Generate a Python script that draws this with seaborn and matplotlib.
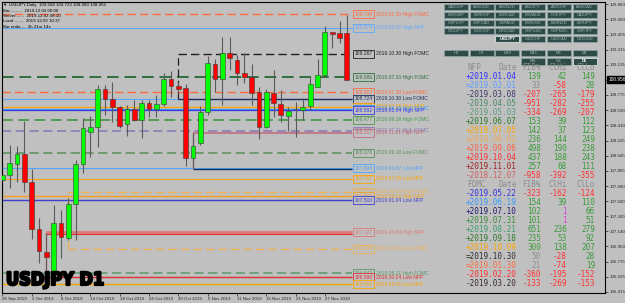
import matplotlib
matplotlib.use("Agg")
import matplotlib.pyplot as plt
import matplotlib.transforms as mtransforms
import matplotlib.patheffects as pe
from matplotlib import font_manager as fm
from matplotlib.patches import Rectangle
import seaborn as sns

W, H = 625, 303

# USDJPY daily bars, first bar is 26 Sep 2019, last is 2 Dec 2019
bar_open = [107.755, 107.815, 107.946, 108.066, 107.731, 107.169, 106.894, 106.654,
            107.240, 107.061, 107.468, 107.946, 108.329, 108.389, 108.843, 108.724,
            108.628, 108.425, 108.604, 108.473, 108.676, 108.604, 108.664, 108.963,
            108.879, 108.855, 108.018, 108.197, 108.568, 109.142, 108.963, 109.274,
            109.190, 109.035, 108.987, 108.807, 108.389, 108.796, 108.664, 108.520,
            108.600, 108.592, 108.640, 108.867, 109.011, 109.525, 109.513, 109.508]
bar_high = [107.922, 108.173, 108.160, 108.461, 107.886, 107.300, 107.121, 107.456,
            107.396, 107.540, 107.994, 108.496, 108.520, 108.891, 108.891, 108.927,
            108.640, 108.652, 108.712, 108.712, 108.712, 108.772, 109.035, 109.059,
            108.927, 108.903, 108.317, 108.640, 109.238, 109.202, 109.465, 109.465,
            109.250, 109.274, 109.142, 108.867, 108.843, 109.071, 108.831, 108.628,
            108.688, 108.736, 108.987, 109.202, 109.597, 109.525, 109.657, 109.723]
bar_low = [107.575, 107.659, 107.730, 107.611, 107.049, 106.762, 106.499, 106.642,
           106.822, 107.037, 107.037, 107.839, 108.030, 108.150, 108.532, 108.449,
           108.377, 108.281, 108.461, 108.257, 108.508, 108.508, 108.640, 108.748,
           108.796, 107.922, 107.898, 108.173, 108.532, 108.807, 108.652, 109.071,
           108.891, 108.915, 108.652, 108.245, 108.377, 108.508, 108.449, 108.341,
           108.269, 108.473, 108.592, 108.867, 108.999, 109.334, 109.394, 108.950]
bar_close = [107.815, 107.958, 108.066, 107.731, 107.169, 106.906, 106.834, 107.240,
             107.073, 107.468, 107.946, 108.377, 108.389, 108.843, 108.724, 108.628,
             108.401, 108.604, 108.473, 108.676, 108.604, 108.664, 108.963, 108.879,
             108.843, 108.018, 108.161, 108.568, 109.154, 108.963, 109.274, 109.214,
             109.035, 108.987, 108.796, 108.389, 108.807, 108.676, 108.532, 108.580,
             108.610, 108.628, 108.903, 109.011, 109.525, 109.501, 109.453, 108.956]

date_ticks = [0, 4, 8, 12, 16, 20, 24, 28, 32, 36, 40, 44]
date_labels = ["26 Sep 2019", "2 Oct 2019", "8 Oct 2019", "14 Oct 2019", "18 Oct 2019",
               "24 Oct 2019", "30 Oct 2019", "5 Nov 2019", "11 Nov 2019", "15 Nov 2019",
               "21 Nov 2019", "27 Nov 2019"]

price_ticks = [109.860, 109.680, 109.495, 109.315, 109.135, 108.955, 108.775, 108.590,
               108.410, 108.225, 108.045, 107.865, 107.680, 107.500, 107.320, 107.140,
               106.960, 106.775, 106.595, 106.415]
last_price = 108.956

header_lines = ["\u25bc USDJPY,Daily  109.508 109.723 108.989 108.956",
                "Bar..........  2019.12.02 00:00",
                "Server.......  2019.12.02 08:10",
                "Local........  2019.12.02 10:37",
                "Bar ends:...  2h 21m 14s"]

# news levels: name, price, bar where the line starts (-1 = before the visible range)
level_names = ["2019.01.30 High FOMC", "2019.02.01 High NFP", "2019.10.30 High FOMC",
               "2019.07.10 High FOMC", "2019.01.30 Low FOMC", "", "2019.10.30 Low FOMC",
               "2019.07.05 High NFP", "2019.06.19 High FOMC", "2019.01.04 High NFP",
               "2019.09.18 High FOMC", "2019.07.31 High FOMC", "2019.11.01 High NFP",
               "2019.09.18 Low FOMC", "2019.06.07 Low NFP", "", "2019.07.05 Low NFP",
               "2019.10.09 High FOMC", "2019.08.02 High NFP", "2019.01.04 Low NFP",
               "2019.10.04 High NFP", "", "2019.10.09 Low FOMC", "2019.08.21 High FOMC",
               "2019.10.04 Low NFP", "2019.08.02 Low NFP"]
level_prices = [109.738, 109.574, 109.267, 108.986, 108.803, 108.724, 108.724, 108.628,
                108.610, 108.592, 108.477, 108.341, 108.317, 108.078, 107.898, 107.886,
                107.767, 107.617, 107.560, 107.510, 107.127, 107.103, 106.935, 106.642,
                106.590, 106.510]
level_from = [-1, -1, 24, -1, -1, -1, 24, -1, -1, -1, -1, -1, 26, -1, -1, 26, -1, 9, -1, -1,
              6, 6, 9, -1, 6, -1]

level_colors = ["#FF6A3D", "#5FA8FF", "#202020", "#2F6F3F", "#FF6A3D", "#5FA8FF", "#1C2E5A",
                "#FFA500", "#3399FF", "#3A3AE0", "#4C9A4C", "#8878B8", "#C06878", "#5A8F5A",
                "#4DA6FF", "#1C2E5A", "#FFA500", "#F0B050", "#F4A020", "#4040D0", "#E07878",
                "#E03030", "#F0B050", "#5A9A6A", "#E03030", "#FFA500"]
level_dashed = [True, False, True, True, True, False, False, False, False, False, True, True,
                False, True, False, False, False, True, False, False, False, False, True,
                True, False, False]
level_widths = [1.0, 0.8, 1.0, 1.4, 1.0, 0.8, 1.0, 0.9, 0.9, 0.9, 1.3, 1.1, 1.1, 1.1, 0.8,
                1.0, 0.7, 1.0, 1.0, 1.0, 2.0, 0.8, 1.0, 1.1, 1.0, 1.0]

pair_rows = [["CADCHF", "AUDUSD", "AUDNZD", "AUDJPY", "AUDCHF", "AUDCAD"],
             ["EURGBP", "EURCHF", "EURCAD", "EURAUD", "CHFJPY", "CADJPY"],
             ["GBPCHF", "GBPCAD", "GBPAUD", "EURUSD", "EURNZD", "EURJPY"],
             ["NZDJPY", "NZDCHF", "NZDCAD", "GBPUSD", "GBPNZD", "GBPJPY"],
             ["", "", "USDJPY", "USDCHF", "USDCAD", "NZDUSD"]]
tf_rows = [["H4", "H1", "M30", "M15", "M5", "M1"],
           ["", "", "", "MN", "W1", "D1"]]
active_buttons = ["USDJPY", "D1"]

table_header = ["Date", "FIB%", "ClHi", "ClLo"]
nfp_dates = ["+2019.01.04", "=2019.02.01", "-2019.03.08", "-2019.04.05", "-2019.05.03",
             "+2019.06.07", "+2019.07.05", "+2019.08.02", "+2019.09.06", "+2019.10.04",
             "+2019.11.01", "-2018.12.07"]
nfp_fib = [139, 33, -207, -951, -334, 153, 142, 236, 498, 437, 257, -958]
nfp_clhi = [42, -58, -265, -282, -269, 39, 37, 144, 190, 188, 68, -392]
nfp_cllo = [149, 28, -179, -255, -207, 112, 123, 249, 238, 243, 111, -355]
fomc_dates = ["-2019.05.22", "+2019.06.19", "+2019.07.10", "+2019.07.31", "+2019.08.21",
              "+2019.09.18", "+2019.10.09", "=2019.10.30", "=2019.01.30", "-2019.02.20",
              "-2019.03.20"]
fomc_fib = [-323, 154, 102, 101, 651, 235, 300, 50, 21, -360, -133]
fomc_clhi = [-162, 39, 1, 1, 236, 53, 138, -28, -74, -195, -269]
fomc_cllo = [-124, 110, 66, 51, 279, 92, 207, 28, 19, -152, -153]

nfp_colors = ["#3030FF", "#5F9EFF", "#3A3A6A", "#4A8A6A", "#5E9E80", "#2A7A2A", "#FFA500",
              "#F0A850", "#FF6040", "#FF3030", "#A02020", "#D06060"]
fomc_colors = ["#3030E0", "#3399FF", "#1E1E70", "#3C8C3C", "#3C9C6C", "#2A7A2A", "#FFA500",
               "#303030", "#FF6A3D", "#FF3030", "#3A2A2A"]


def px(x, y):
    """ Pixel position (from top left) to figure fraction. """
    return x / W, 1 - y / H


def value_color(v, neutral=False):
    if neutral:
        return "#8C8C8C"
    if v == 1:
        return "#E040E0"
    return "#3A9A3A" if v > 0 else "#FF3030"


def narrow_bold_font():
    """ Look for a condensed face for the big symbol caption, else plain bold. """
    narrow = [f for f in fm.fontManager.ttflist
              if f.stretch in ("condensed", "semi-condensed", "extra-condensed")
              or "Narrow" in f.name or "Condensed" in f.name]
    narrow.sort(key=lambda f: 0 if f.weight in ("bold", 700, "heavy", "black") else 1)
    if narrow:
        return fm.FontProperties(fname=narrow[0].fname)
    return fm.FontProperties(family="Liberation Sans", weight="bold")


sns.set_theme(style="white", rc={"axes.facecolor": "#C0C0C0", "figure.facecolor": "#C0C0C0",
                                 "axes.edgecolor": "black", "axes.linewidth": 0.8})
plt.rcParams["font.family"] = ["Liberation Sans", "DejaVu Sans"]

fig = plt.figure(figsize=(W / 100, H / 100), dpi=100)
ax = fig.add_axes([2 / W, 1 - 292.5 / H, 603 / W, 290.5 / H])
ax.set_xlim(-0.04, 82.2)
ax.set_ylim(106.409, 109.884)
last_bar = len(bar_close) - 1
line_end = last_bar + 0.7

# news levels
for name, p, s, c, dsh, lw in zip(level_names, level_prices, level_from, level_colors,
                                  level_dashed, level_widths):
    x0 = -0.04 if s < 0 else s
    ax.hlines(p, x0, line_end, colors=c, linestyles=(0, (6, 3)) if dsh else "solid",
              lw=lw, zorder=1)
    if name:
        ax.text(48.0, p, f"{p:.3f}", fontsize=3.6, color=c, ha="left", va="center",
                bbox=dict(boxstyle="square,pad=0.3", fc="#C0C0C0", ec=c, lw=0.6), zorder=5)
        ax.text(50.9, p, name, fontsize=3.6, color=c, ha="left", va="center", zorder=5)

# vertical connectors for events inside the visible range
for s in sorted(set(v for v in level_from if v >= 0)):
    ps = [p for p, f in zip(level_prices, level_from) if f == s]
    first = level_from.index(s)
    ax.vlines(s, min(ps), max(ps), colors=level_colors[first], lw=0.9,
              linestyles=(0, (6, 3)) if level_dashed[first] else "solid", zorder=1)

# candles
xs = list(range(len(bar_close)))
ax.vlines(xs, bar_low, bar_high, colors="#5A5A5A", lw=0.8, zorder=2)
bottoms = [min(o, c) for o, c in zip(bar_open, bar_close)]
heights = [max(abs(c - o), 0.008) for o, c in zip(bar_open, bar_close)]
body_colors = ["#00FF00" if c >= o else "#FF0000" for o, c in zip(bar_open, bar_close)]
ax.bar(xs, heights, bottom=bottoms, width=0.66, color=body_colors, edgecolor="#3C3C3C",
       linewidth=0.4, zorder=3)

# axes ticks
ax.set_xticks(date_ticks)
ax.set_xticklabels(date_labels)
for lbl in ax.get_xticklabels():
    lbl.set_horizontalalignment("left")
ax.set_yticks(price_ticks)
ax.set_yticklabels([f"{v:.3f}" for v in price_ticks])
ax.tick_params(axis="x", bottom=True, labelbottom=True, length=2, width=0.5, pad=1,
               labelsize=3.2)
ax.tick_params(axis="y", left=False, labelleft=False, right=True, labelright=True,
               length=2, width=0.5, pad=1, labelsize=3.2)
trans = mtransforms.blended_transform_factory(ax.transAxes, ax.transData)
ax.text(1.006, last_price, f"{last_price:.3f}", transform=trans, fontsize=3.4, color="white",
        ha="left", va="center", clip_on=False, zorder=10,
        bbox=dict(boxstyle="square,pad=0.3", fc="black", ec="black"))

# header info top left
for k, line in enumerate(header_lines):
    fig.text(*px(3, 5 + k * 5.5), line, fontsize=3.2, color="black", ha="left", va="center")

# big symbol caption, sized to the reference width
big = fig.text(*px(6, 285), "USDJPY D1", fontproperties=narrow_bold_font(), fontsize=20,
               color="black", ha="left", va="baseline")
renderer = fig.canvas.get_renderer()
bb = big.get_window_extent(renderer)
big.set_fontsize(20 * 98 / bb.width)
big.set_path_effects([pe.withStroke(linewidth=1.6, foreground="black")])


# symbol and timeframe buttons
def button(x0, y0, text):
    active = text in active_buttons
    fig.add_artist(Rectangle(px(x0, y0 + 6.3), 24 / W, 6.3 / H, transform=fig.transFigure,
                             fc="#2E4B48", ec="#E8F0F0" if active else "#8FA8A6", lw=0.5))
    fig.text(*px(x0 + 12, y0 + 3.3), text, fontsize=2.9, ha="center", va="center",
             color="white" if active else "#A0B4B2",
             fontweight="bold" if active else "normal")


for r, row in enumerate(pair_rows):
    for c, name in enumerate(row):
        if name:
            button(444 + 25.7 * c, 4 + 8 * r, name)
for r, row in enumerate(tf_rows):
    for c, name in enumerate(row):
        if name:
            button(444 + 25.7 * c, 50 + 8.2 * r, name)

# news tables
mono = "DejaVu Sans Mono"
col_right = [517, 541, 567, 595]
row_step = 9.04


def table(y0, title, dates, fib, clhi, cllo, colors):
    fig.text(*px(467, y0), title, fontsize=5.5, family=mono, color="#8C8C8C",
             ha="left", va="center")
    for xr, h in zip(col_right, table_header):
        fig.text(*px(xr, y0), h, fontsize=5.5, family=mono, color="#8C8C8C",
                 ha="right", va="center")
    for k, d in enumerate(dates):
        y = y0 + row_step * (k + 1)
        fig.text(*px(466, y), d, fontsize=5.5, family=mono, color=colors[k],
                 ha="left", va="center")
        vals = [fib[k], clhi[k], cllo[k]]
        for j, v in enumerate(vals):
            fig.text(*px(col_right[j + 1], y), str(v), fontsize=5.5, family=mono,
                     color=value_color(v, neutral=(j == 0 and d.startswith("="))),
                     ha="right", va="center")


table(67, "NFP", nfp_dates, nfp_fib, nfp_clhi, nfp_cllo, nfp_colors)
table(67 + row_step * 13, "FOMC", fomc_dates, fomc_fib, fomc_clhi, fomc_cllo, fomc_colors)

fig.savefig("out.png", dpi=100, facecolor=fig.get_facecolor())
